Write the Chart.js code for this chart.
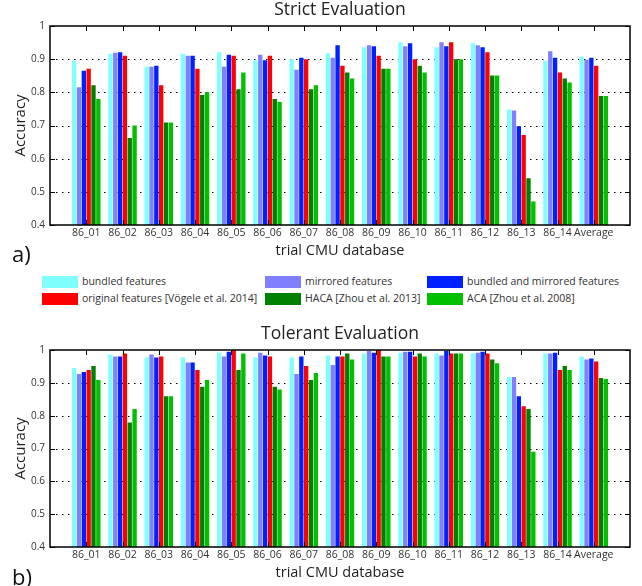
<!DOCTYPE html>
<html>
<head>
<meta charset="utf-8">
<script src="https://cdn.jsdelivr.net/npm/chart.js@4.4.1/dist/chart.umd.min.js"></script>
<style>
  body { margin: 0; background: #fff; font-family: "Open Sans", sans-serif; color: #222; }
  #wrap { position: relative; width: 642px; height: 586px; overflow: hidden; }
  canvas { position: absolute; left: 0; }
  #strict { top: 0; }
  #tolerant { top: 324px; }
  .tag { position: absolute; left: 12px; font-size: 22px; line-height: 22px; color: #111; }
  .item { position: absolute; white-space: nowrap; font-size: 10.5px; line-height: 12px; color: #333; }
  .item span { position: absolute; left: 0; top: 0; width: 36px; height: 12px; }
  .item b { font-weight: normal; position: absolute; left: 40px; top: -1px; }
</style>
</head>
<body>
<div id="wrap">
  <canvas id="strict" width="642" height="264"></canvas>
  <div class="tag" style="top:242px">a)</div>
  <div id="legend"></div>
  <canvas id="tolerant" width="642" height="262"></canvas>
  <div class="tag" style="top:565px">b)</div>
</div>
<script>
const categories = ["86_01", "86_02", "86_03", "86_04", "86_05", "86_06", "86_07",
  "86_08", "86_09", "86_10", "86_11", "86_12", "86_13", "86_14", "Average"];

const seriesNames = ["bundled features", "mirrored features", "bundled and mirrored features",
  "original features [Vögele et al. 2014]", "HACA [Zhou et al. 2013]", "ACA [Zhou et al. 2008]"];
const seriesColors = ["#80ffff", "#8080ff", "#0020ff", "#ff0000", "#008000", "#00c000"];

// strict evaluation
const strictBundled  = [0.895, 0.916, 0.877, 0.916, 0.921, 0.897, 0.900, 0.918, 0.936, 0.951, 0.936, 0.948, 0.748, 0.895, 0.907];
const strictMirrored = [0.815, 0.919, 0.877, 0.910, 0.877, 0.913, 0.868, 0.904, 0.942, 0.939, 0.951, 0.942, 0.745, 0.924, 0.898];
const strictBoth     = [0.865, 0.921, 0.880, 0.910, 0.913, 0.897, 0.904, 0.942, 0.939, 0.948, 0.939, 0.936, 0.698, 0.904, 0.904];
const strictOriginal = [0.871, 0.910, 0.821, 0.871, 0.910, 0.910, 0.900, 0.880, 0.910, 0.900, 0.951, 0.921, 0.671, 0.860, 0.880];
const strictHaca     = [0.821, 0.662, 0.709, 0.792, 0.809, 0.780, 0.809, 0.860, 0.871, 0.880, 0.900, 0.851, 0.541, 0.842, 0.789];
const strictAca      = [0.780, 0.700, 0.709, 0.800, 0.860, 0.771, 0.821, 0.842, 0.871, 0.860, 0.900, 0.851, 0.471, 0.830, 0.789];

// tolerant evaluation
const tolerantBundled  = [0.945, 0.986, 0.977, 0.977, 0.992, 0.977, 0.977, 0.983, 0.989, 0.992, 0.989, 0.989, 0.918, 0.989, 0.980];
const tolerantMirrored = [0.927, 0.980, 0.986, 0.962, 0.980, 0.992, 0.927, 0.954, 0.998, 0.995, 0.983, 0.992, 0.918, 0.989, 0.971];
const tolerantBoth     = [0.933, 0.980, 0.977, 0.962, 0.995, 0.983, 0.980, 0.980, 0.992, 0.995, 0.998, 0.995, 0.859, 0.992, 0.974];
const tolerantOriginal = [0.939, 0.989, 0.980, 0.939, 1.000, 0.980, 0.951, 0.980, 1.000, 0.980, 0.989, 0.989, 0.829, 0.939, 0.965];
const tolerantHaca     = [0.951, 0.779, 0.859, 0.888, 0.939, 0.888, 0.909, 0.989, 0.980, 0.989, 0.989, 0.971, 0.820, 0.951, 0.915];
const tolerantAca      = [0.909, 0.820, 0.859, 0.909, 0.989, 0.880, 0.930, 0.971, 0.980, 0.980, 0.989, 0.960, 0.690, 0.939, 0.912];

const yTicks = { min: 0.4, max: 1, step: 0.1 };
const fontFamily = '"Open Sans", sans-serif';

// matlab look: dotted grid behind bars, box + inward ticks on top
const boxPlugin = {
  id: "box",
  beforeDatasetsDraw(chart) {
    const { ctx, chartArea: a, scales: { y } } = chart;
    ctx.save();
    ctx.strokeStyle = "#000";
    ctx.lineWidth = 1;
    ctx.setLineDash([1.5, 4.5]);
    y.ticks.forEach((t, i) => {
      const py = Math.round(y.getPixelForTick(i)) + 0.5;
      if (py <= a.top + 2 || py >= a.bottom - 2) return;
      ctx.beginPath();
      ctx.moveTo(a.left, py);
      ctx.lineTo(a.right, py);
      ctx.stroke();
    });
    ctx.restore();
  },
  afterDatasetsDraw(chart) {
    const { ctx, chartArea: a, scales: { x, y } } = chart;
    ctx.save();
    ctx.strokeStyle = "#000";
    ctx.lineWidth = 1;
    ctx.beginPath();
    x.ticks.forEach((t, i) => {
      if (!t.label) return;
      const px = Math.round(x.getPixelForTick(i)) + 0.5;
      ctx.moveTo(px, a.bottom); ctx.lineTo(px, a.bottom - 5);
      ctx.moveTo(px, a.top); ctx.lineTo(px, a.top + 5);
    });
    y.ticks.forEach((t, i) => {
      const py = Math.round(y.getPixelForTick(i)) + 0.5;
      ctx.moveTo(a.left, py); ctx.lineTo(a.left + 5, py);
      ctx.moveTo(a.right, py); ctx.lineTo(a.right - 5, py);
    });
    ctx.stroke();
    ctx.lineWidth = 1.5;
    ctx.strokeRect(a.left, a.top, a.right - a.left, a.bottom - a.top);
    ctx.restore();
  },
};

const makeChart = (id, title, series) => {
  // empty slot on each side, like xlim([0 16]) in matlab
  const labels = ["", ...categories, ""];
  return new Chart(document.getElementById(id), {
    type: "bar",
    data: {
      labels,
      datasets: series.map((values, i) => ({
        label: seriesNames[i],
        data: [null, ...values, null],
        backgroundColor: seriesColors[i],
        borderWidth: 0,
        categoryPercentage: 0.8,
        barPercentage: 0.9,
      })),
    },
    options: {
      responsive: false,
      animation: false,
      layout: { padding: { left: 0, right: 12, top: 0, bottom: 0 } },
      plugins: {
        legend: { display: false },
        tooltip: { enabled: false },
        title: {
          display: true,
          text: title,
          fullSize: false,
          color: "#222",
          font: { family: fontFamily, size: 17.5, weight: "normal" },
          lineHeight: 1.1,
          padding: { top: 0, bottom: 5 },
        },
      },
      scales: {
        x: {
          offset: false,
          grid: { display: false, drawTicks: false },
          border: { display: false },
          ticks: {
            autoSkip: false,
            maxRotation: 0,
            padding: 2,
            color: "#333",
            font: { family: fontFamily, size: 10.5 },
          },
          title: {
            display: true,
            text: "trial CMU database",
            color: "#222",
            font: { family: fontFamily, size: 14.5 },
            padding: { top: 1, bottom: 4 },
          },
        },
        y: {
          min: yTicks.min,
          max: yTicks.max,
          afterFit(scale) { scale.width = 50; },
          grid: { display: false, drawTicks: false },
          border: { display: false },
          ticks: {
            stepSize: yTicks.step,
            padding: 5,
            color: "#333",
            font: { family: fontFamily, size: 10 },
            callback: (v) => +v.toFixed(1),
          },
          title: {
            display: true,
            text: "Accuracy",
            color: "#222",
            font: { family: fontFamily, size: 15 },
            padding: { top: 12 },
          },
        },
      },
    },
    plugins: [boxPlugin],
  });
};

makeChart("strict", "Strict Evaluation",
  [strictBundled, strictMirrored, strictBoth, strictOriginal, strictHaca, strictAca]);
makeChart("tolerant", "Tolerant Evaluation",
  [tolerantBundled, tolerantMirrored, tolerantBoth, tolerantOriginal, tolerantHaca, tolerantAca]);

// legend between the two plots: 2 rows x 3 columns
const legendCols = [42, 265, 427];
const legendRows = [276, 293];
const legendEl = document.getElementById("legend");
seriesNames.forEach((name, i) => {
  const item = document.createElement("div");
  item.className = "item";
  item.style.left = legendCols[i % 3] + "px";
  item.style.top = legendRows[Math.floor(i / 3)] + "px";
  item.innerHTML = `<span style="background:${seriesColors[i]}"></span><b>${name}</b>`;
  legendEl.appendChild(item);
});
</script>
</body>
</html>
